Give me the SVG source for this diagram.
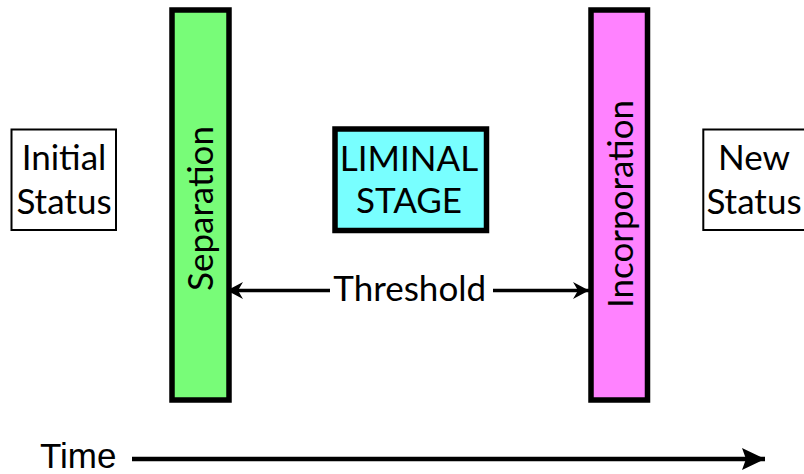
<svg xmlns="http://www.w3.org/2000/svg" width="804" height="474" viewBox="0 0 804 474">
<style>
.t{font-family:Lato,"Open Sans","DejaVu Sans",sans-serif;font-size:35px;fill:#000;text-anchor:middle}
.bar{stroke:#000;stroke-width:5.5}
.box{fill:#fff;stroke:#000;stroke-width:2}
.ln{stroke:#000;stroke-width:3.5;fill:none}
</style>
<defs>
<marker id="barb" viewBox="0 0 16 18" refX="16" refY="9" markerWidth="16" markerHeight="18" markerUnits="userSpaceOnUse" orient="auto-start-reverse">
<path d="M16,9 L0,0.5 L5,9 L0,17.5 Z" fill="#000"/>
</marker>
<marker id="big" viewBox="0 0 23 22" refX="23" refY="11" markerWidth="23" markerHeight="22" markerUnits="userSpaceOnUse" orient="auto">
<path d="M23,11 L0,0 L4,11 L0,22 Z" fill="#000"/>
</marker>
</defs>
<rect width="804" height="474" fill="#fff"/>
<g id="initial-status">
<rect class="box" x="11.5" y="129.5" width="104.5" height="100.5"/>
<text class="t" x="64" y="170">Initial</text>
<text class="t" x="64" y="214">Status</text>
</g>
<g id="separation">
<rect class="bar" x="172" y="10" width="57" height="390" fill="#78FC78"/>
<text class="t" transform="translate(213,208.5) rotate(-90)">Separation</text>
</g>
<g id="liminal-stage">
<rect class="bar" x="335" y="129" width="151.5" height="101.5" fill="#78FFFF"/>
<text class="t" x="409" y="170.5">LIMINAL</text>
<text class="t" x="409" y="213">STAGE</text>
</g>
<g id="incorporation">
<rect class="bar" x="591" y="10" width="56.5" height="390" fill="#FF82FF"/>
<text class="t" transform="translate(632.5,204) rotate(-90)">Incorporation</text>
</g>
<g id="new-status">
<rect class="box" x="703.3" y="129.5" width="104" height="100.5"/>
<text class="t" x="754" y="170">New</text>
<text class="t" x="754" y="214">Status</text>
</g>
<g id="threshold-label">
<text class="t" x="409.7" y="300.7">Threshold</text>
</g>
<g id="connectors">
<line class="ln" x1="330" y1="290.5" x2="227" y2="290.5" marker-end="url(#barb)"/>
<line class="ln" x1="493" y1="290.5" x2="589" y2="290.5" marker-end="url(#barb)"/>
<line x1="132" y1="459" x2="765" y2="459" stroke="#000" stroke-width="4.5" marker-end="url(#big)"/>
</g>
<g id="time-label">
<text x="40" y="468" font-family="'Liberation Sans',Arial,sans-serif" font-size="35">Time</text>
</g>
</svg>
